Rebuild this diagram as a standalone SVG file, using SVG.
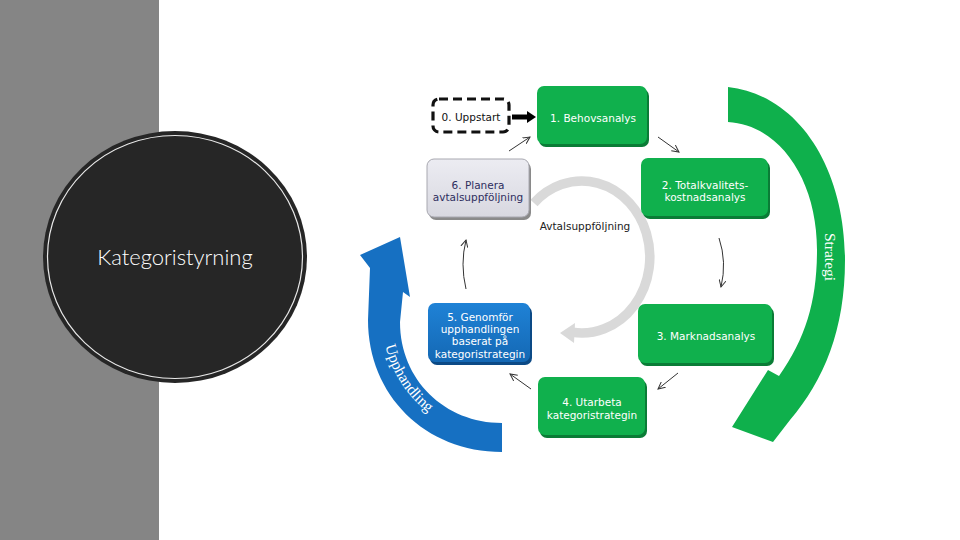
<svg xmlns="http://www.w3.org/2000/svg" width="960" height="540" viewBox="0 0 960 540">
<defs>
<style>
.bt{font-family:"DejaVu Sans","Verdana",sans-serif;font-size:10.5px;text-anchor:middle;fill:#ffffff}
.gs{fill:#0a7c36}
.gm{fill:#10b04d}
.con{fill:none;stroke:#333333;stroke-width:1;marker-end:url(#ah)}
.big{font-family:"Liberation Serif","Times New Roman",serif;font-size:15.5px;fill:#ffffff}
</style>
<marker id="ah" viewBox="0 0 8 8" refX="7" refY="4" markerWidth="8" markerHeight="8" markerUnits="userSpaceOnUse" orient="auto">
<path d="M0,0.5 L7,4 L0,7.5" fill="none" stroke="#333333" stroke-width="1"/>
</marker>
<linearGradient id="gb" x1="0" y1="0" x2="0" y2="1">
<stop offset="0" stop-color="#1f82d6"/>
<stop offset="1" stop-color="#1468b4"/>
</linearGradient>
<linearGradient id="gg" x1="0" y1="0" x2="0" y2="1">
<stop offset="0" stop-color="#ececf2"/>
<stop offset="1" stop-color="#d8d8e0"/>
</linearGradient>
</defs>
<rect x="0" y="0" width="960" height="540" fill="#ffffff"/>
<rect x="0" y="0" width="159" height="540" fill="#858585"/>
<g id="title">
<ellipse cx="175" cy="257" rx="132" ry="126" fill="#262626"/>
<ellipse cx="175" cy="257" rx="127.5" ry="121.5" fill="none" stroke="#e8e8e8" stroke-width="1.2"/>
<text x="175" y="265" font-family="Lato,'Open Sans',sans-serif" font-weight="300" font-size="22" fill="#ffffff" text-anchor="middle">Kategoristyrning</text>
</g>
<g id="cycle">
<path d="M534,203 A68,76 0 1 1 572.5,332.3" fill="none" stroke="#d9d9d9" stroke-width="9.5"/>
<polygon points="575,323 560,333 574,343" fill="#d9d9d9"/>
<text x="585" y="230" font-family="'DejaVu Sans',sans-serif" font-size="10.5" fill="#222222" text-anchor="middle">Avtalsuppföljning</text>
</g>
<g id="strategi">
<path d="M728,87 C800,95 845,170 845,260 C845,330 824,380 790,420 L773,442 L732,427 L768,370 L779,376 C806,338 817,300 817,250 C817,180 780,125 728,122 Z" fill="#0fb04c"/>
<text class="big" transform="translate(825,257) rotate(90)" text-anchor="middle">Strategi</text>
</g>
<g id="upphandling">
<path d="M502,452 C425,452 368,395 368,320 L370,268 L360,255 L400,237 L410,297 L403,292 L400,322 C400,380 445,423 502,423 Z" fill="#1670c2"/>
<path id="up" d="M382.5,328.5 A120,120 0 0 0 481.2,436.2" fill="none"/>
<text class="big"><textPath href="#up" startOffset="58" text-anchor="middle">Upphandling</textPath></text>
</g>
<g id="n0">
<rect x="433" y="99" width="76" height="33" rx="6" fill="#ffffff" stroke="#111111" stroke-width="3.2" stroke-dasharray="9,5"/>
<text class="bt" x="471" y="121" style="fill:#111111">0. Uppstart</text>
</g>
<g id="n1">
<rect class="gs" x="539" y="89" width="110" height="58" rx="7"/>
<rect class="gm" x="537" y="86" width="110" height="58" rx="7"/>
<text class="bt" x="593" y="122">1. Behovsanalys</text>
</g>
<g id="n2">
<rect class="gs" x="643" y="161" width="127" height="58" rx="7"/>
<rect class="gm" x="641" y="158" width="127" height="58" rx="7"/>
<text class="bt" x="705" y="189">2. Totalkvalitets-</text>
<text class="bt" x="705" y="201">kostnadsanalys</text>
</g>
<g id="n3">
<rect class="gs" x="640" y="307" width="134" height="59" rx="7"/>
<rect class="gm" x="638" y="304" width="134" height="59" rx="7"/>
<text class="bt" x="706" y="340">3. Marknadsanalys</text>
</g>
<g id="n4">
<rect class="gs" x="540" y="380" width="107" height="58" rx="7"/>
<rect class="gm" x="538" y="377" width="107" height="58" rx="7"/>
<text class="bt" x="592" y="406">4. Utarbeta</text>
<text class="bt" x="592" y="419">kategoristrategin</text>
</g>
<g id="n5">
<rect x="430" y="306" width="102" height="59" rx="7" fill="#0c4a86"/>
<rect x="428" y="303" width="102" height="59" rx="7" fill="url(#gb)"/>
<text class="bt" x="480" y="321">5. Genomför</text>
<text class="bt" x="480" y="333">upphandlingen</text>
<text class="bt" x="480" y="345">baserat på</text>
<text class="bt" x="480" y="358">kategoristrategin</text>
</g>
<g id="n6">
<rect x="429" y="162" width="102" height="58" rx="7" fill="#8a8a8a"/>
<rect x="427" y="159" width="102" height="58" rx="7" fill="url(#gg)" stroke="#a8a8b0" stroke-width="1"/>
<text class="bt" x="478" y="189" style="fill:#2e2e5e">6. Planera</text>
<text class="bt" x="478" y="201" style="fill:#2e2e5e">avtalsuppföljning</text>
</g>
<g id="connectors">
<path d="M512,117 L528,117" stroke="#000000" stroke-width="5" fill="none"/>
<polygon points="527,111 536,117 527,123" fill="#000000"/>
<path class="con" d="M509,151 L530,137"/>
<path class="con" d="M658,137 L679,152"/>
<path class="con" d="M719,238 Q727,262 721,287"/>
<path class="con" d="M678,373 L658,389"/>
<path class="con" d="M531,389 L510,374"/>
<path class="con" d="M466,289 Q460,264 466,240"/>
</g>
</svg>
